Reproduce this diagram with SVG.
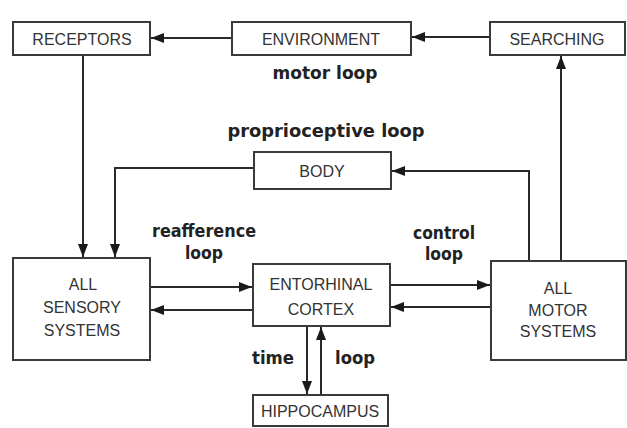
<svg xmlns="http://www.w3.org/2000/svg" width="627" height="428" viewBox="0 0 627 428">
<style>
.box{fill:#fff;stroke:#3a3a3a;stroke-width:2}
.t{font-family:"Liberation Sans",Arial,sans-serif;font-size:16px;fill:#333;text-anchor:middle;dominant-baseline:central}
.lb{font-family:"DejaVu Sans",Verdana,sans-serif;font-weight:bold;font-size:17px;fill:#222;text-anchor:middle;dominant-baseline:central}
.c{fill:none;stroke:#2a2a2a;stroke-width:2;marker-end:url(#ah)}
</style>
<defs>
<marker id="ah" markerUnits="userSpaceOnUse" markerWidth="14" markerHeight="12" viewBox="0 0 14 12" refX="13" refY="6" orient="auto">
<path d="M0,1 L13,6 L0,11 Z" fill="#1a1a1a"/>
</marker>
</defs>
<rect width="627" height="428" fill="#fff"/>
<g id="connectors">
<path class="c" d="M232,38 H151"/>
<path class="c" d="M490,37 H412"/>
<path class="c" d="M561,261 V56"/>
<path class="c" d="M83,55 V257"/>
<path class="c" d="M254,168 H115 V257"/>
<path class="c" d="M529,261 V171 H392"/>
<path class="c" d="M150,287 H252"/>
<path class="c" d="M253,310 H151"/>
<path class="c" d="M390,285 H490"/>
<path class="c" d="M491,307 H391"/>
<path class="c" d="M307,326 V394"/>
<path class="c" d="M321,395 V327"/>
</g>
<g id="receptors"><rect class="box" x="13" y="22" width="137" height="33"/><text class="t" x="82" y="39">RECEPTORS</text></g>
<g id="environment"><rect class="box" x="232" y="22" width="179" height="33"/><text class="t" x="321" y="39">ENVIRONMENT</text></g>
<g id="searching"><rect class="box" x="490" y="22" width="135" height="33"/><text class="t" x="557" y="39">SEARCHING</text></g>
<g id="body"><rect class="box" x="254" y="152" width="137" height="37"/><text class="t" x="322" y="171">BODY</text></g>
<g id="sensory"><rect class="box" x="13" y="258" width="137" height="102"/><text class="t" x="83" y="284">ALL</text><text class="t" x="82" y="307">SENSORY</text><text class="t" x="82" y="330">SYSTEMS</text></g>
<g id="entorhinal"><rect class="box" x="253" y="264" width="137" height="62"/><text class="t" x="321" y="284">ENTORHINAL</text><text class="t" x="321" y="309">CORTEX</text></g>
<g id="motor"><rect class="box" x="491" y="261" width="135" height="99"/><text class="t" x="558" y="288">ALL</text><text class="t" x="558" y="310">MOTOR</text><text class="t" x="558" y="331">SYSTEMS</text></g>
<g id="hippocampus"><rect class="box" x="253" y="395" width="135" height="31"/><text class="t" x="320" y="411">HIPPOCAMPUS</text></g>
<g id="labels">
<text class="lb" x="325" y="73" textLength="105" lengthAdjust="spacingAndGlyphs">motor loop</text>
<text class="lb" x="326" y="131" textLength="197" lengthAdjust="spacingAndGlyphs">proprioceptive loop</text>
<text class="lb" x="204" y="231" textLength="104" lengthAdjust="spacingAndGlyphs">reafference</text>
<text class="lb" x="204" y="253" textLength="38" lengthAdjust="spacingAndGlyphs">loop</text>
<text class="lb" x="444" y="233" textLength="62" lengthAdjust="spacingAndGlyphs">control</text>
<text class="lb" x="444" y="254" textLength="38" lengthAdjust="spacingAndGlyphs">loop</text>
<text class="lb" x="273" y="358" textLength="42" lengthAdjust="spacingAndGlyphs">time</text>
<text class="lb" x="355" y="358" textLength="40" lengthAdjust="spacingAndGlyphs">loop</text>
</g>
</svg>
